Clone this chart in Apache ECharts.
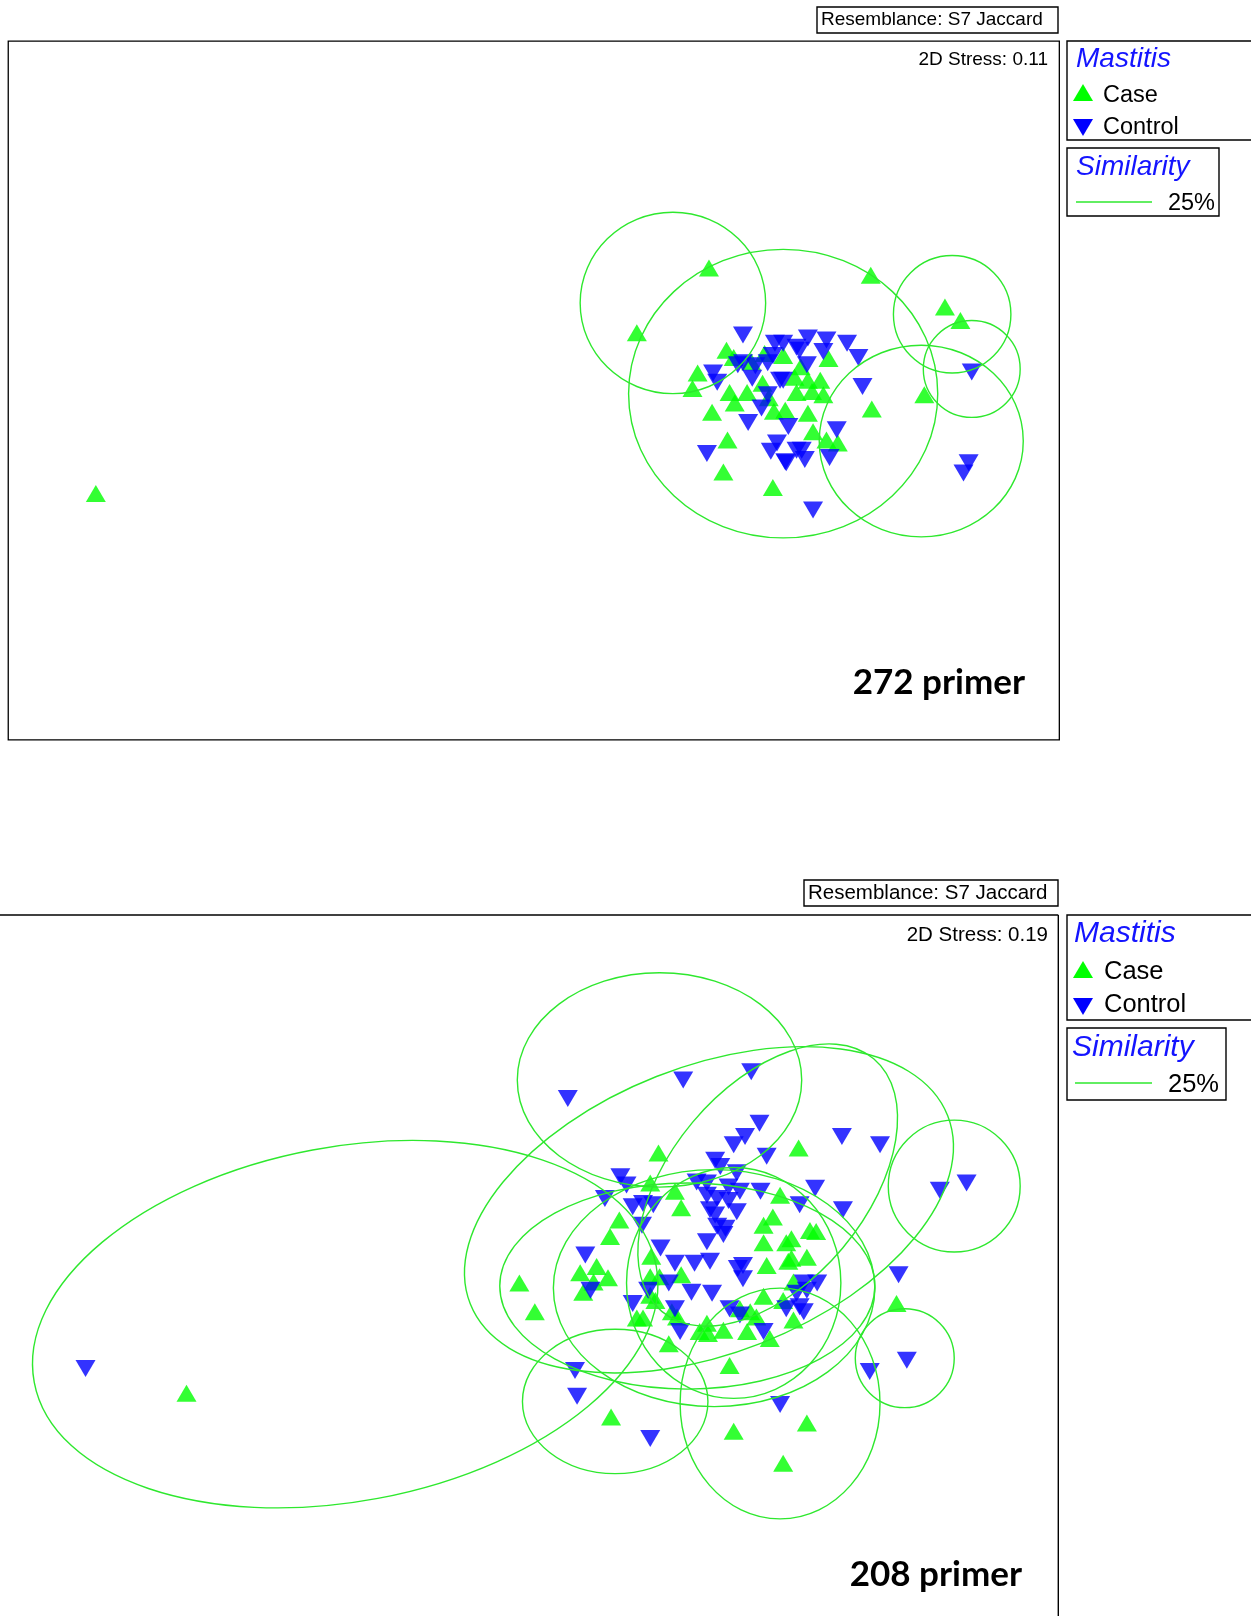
<!DOCTYPE html>
<html><head><meta charset="utf-8">
<script src="https://cdn.jsdelivr.net/npm/echarts@6/dist/echarts.min.js"></script>
<style>html,body{margin:0;padding:0;background:#fff}#c{width:1251px;height:1616px}</style>
</head><body><div id="c"></div>
<script>
// ---- DATA (ordination coordinates) ----
const topCase = [[688,260],[845,267],[618,323],[917,298],[932,311],[897,383],[846,397],[93,479],
 [705,340],[712,347],[677,362],[672,377],[708,381],[713,391],[725,381],[691,400],[706,427],[702,458],[750,473],
 [742,343],[760,345],[777,356],[804,348],[771,366],[784,369],[796,369],[773,381],[788,380],[799,383],[762,398],
 [784,401],[789,419],[802,427],[813,430],[740,372],[746,386],[751,399],[729,351]];
const topControl = [[721,325],[752,333],[750,345],[745,352],[773,337],[784,328],[802,330],[822,333],[776,340],[799,341],
 [833,347],[783,354],[760,333],[760,369],[837,375],[943,361],[692,362],[696,371],[721,352],[716,354],[730,367],
 [745,383],[739,396],[726,410],[686,440],[757,369],[765,414],[754,430],[762,448],[773,437],[812,417],[778,437],
 [781,446],[805,444],[763,449],[940,449],[935,459],[789,495],[733,355],[748,438]];
// similarity contours: [centreX, centreY, radiusA, radiusB, angleDeg]
const topContours = [[653,294,90,88,0],[760,382,150,140,0],[894,428,99,93,0],[924,305,57,57,0],[943,358,47,47,0]];

const botCase = [[181,1352],[504,1245],[519,1273],[563,1235],[566,1254],[576,1244],[579,1229],[590,1240],[592,1200],[601,1184],
 [618,1279],[593,1375],[631,1148],[632,1219],[631,1239],[639,1119],[655,1156],[661,1172],[757,1160],[750,1181],
 [741,1189],[741,1206],[768,1202],[763,1206],[768,1221],[765,1224],[744,1228],[640,1239],[661,1237],[631,1257],
 [636,1262],[652,1273],[657,1278],[741,1258],[760,1262],[770,1244],[718,1270],[728,1273],[734,1278],[686,1284],
 [679,1292],[687,1294],[702,1291],[725,1292],[747,1299],[649,1304],[708,1325],[712,1389],[783,1381],[760,1420],
 [624,1279],[770,1281],[786,1194],[792,1195],[783,1220],[775,1114],[870,1265]];
const botControl = [[83,1328],[551,1066],[663,1048],[729,1040],[737,1090],[723,1103],[712,1111],[744,1122],[694,1126],[699,1132],
 [715,1138],[676,1147],[686,1148],[707,1152],[718,1156],[738,1156],[602,1142],[608,1150],[587,1163],[614,1171],
 [624,1168],[634,1169],[623,1189],[568,1218],[573,1252],[614,1265],[629,1252],[558,1330],[560,1355],[686,1160],
 [696,1163],[707,1165],[715,1176],[689,1174],[694,1179],[702,1198],[686,1205],[696,1190],[704,1192],[641,1211],
 [655,1226],[674,1226],[689,1224],[716,1231],[721,1228],[721,1241],[649,1245],[671,1254],[691,1255],[655,1270],
 [708,1270],[718,1276],[660,1292],[741,1292],[763,1270],[776,1268],[780,1273],[773,1255],[783,1252],[757,1363],
 [631,1396],[817,1103],[854,1111],[912,1155],[938,1148],[791,1153],[818,1174],[776,1169],[872,1237],[880,1320],
 [844,1331],[780,1245],[793,1245]];
const botContours = [[335,1285,307,172,10.6],[640,1048,138,104,0],[688,1174,249,139,21.5],[745,1150,160,95,50],
 [667,1248,182,100,0],[693,1250,156,115,0],[712,1245,104,112,0],[597,1360,90,70,0],[757,1362,97,112,0],
 [926,1151,64,64,0],[878,1318,48,48,0]];

const groups = ['Case','Control'];
const stressLabels = ['2D Stress: 0.11','2D Stress: 0.19'];
const panelLabels = ['272 primer','208 primer'];
const resemblance = 'Resemblance: S7 Jaccard';
const factorName = 'Mastitis';
const contourName = 'Similarity';
const contourLevel = '25%';

// ---- RENDER ----
const K = 1251/1214;
const GREEN = '#00ff00', BLUE = '#0000ff', LINE = '#2ee82e', LEG = '#1414ff';
const upTri = 'path://M10,0L20,17L0,17Z';
const downTri = 'path://M0,0L20,0L10,17Z';

function renderEllipse(params, api){
  const c = api.coord([api.value(0), api.value(1)]);
  const s = api.size([api.value(2), api.value(3)]);
  return {type:'ellipse', x:c[0], y:c[1], rotation: api.value(4)*Math.PI/180,
    shape:{cx:0, cy:0, rx:s[0], ry:s[1]},
    style:{fill:'none', stroke:LINE, lineWidth:1.4}};
}
const hiddenAxis = {type:'value', axisLine:{show:false}, axisTick:{show:false}, axisLabel:{show:false}, splitLine:{show:false}};
const panels = [{xmin:8,xmax:1028,ymin:40,ymax:718,frame:true},{xmin:0,xmax:1027,ymin:888,ymax:1568.2,frame:false}];

const grids = panels.map(p=>({left:p.xmin*K, top:p.ymin*K, width:(p.xmax-p.xmin)*K, height:(p.ymax-p.ymin)*K,
  show:p.frame, borderColor:'#000', borderWidth:1.3, backgroundColor:'transparent'}));
const xAxes = panels.map((p,i)=>Object.assign({gridIndex:i, min:p.xmin, max:p.xmax}, hiddenAxis));
const yAxes = panels.map((p,i)=>Object.assign({gridIndex:i, min:p.ymin, max:p.ymax, inverse:true}, hiddenAxis));

const sets = [[topCase, topControl, topContours],[botCase, botControl, botContours]];
const series = [];
sets.forEach((s,i)=>{
  series.push({type:'scatter', name:groups[0], xAxisIndex:i, yAxisIndex:i, data:s[0], symbol:upTri, symbolSize:[20,17], itemStyle:{color:GREEN}, z:2});
  series.push({type:'scatter', name:groups[1], xAxisIndex:i, yAxisIndex:i, data:s[1], symbol:downTri, symbolSize:[20,17], itemStyle:{color:BLUE}, z:3});
  series.push({type:'custom', xAxisIndex:i, yAxisIndex:i, data:s[2], renderItem:renderEllipse, encode:{x:0,y:1}, clip:true, z:4, silent:true});
});

const ARIAL = '"Liberation Sans", Arial, sans-serif';
function txt(t, x, y, size, opts){
  opts = opts||{};
  return {type:'text', x:x, y:y, z:10, style:{text:t, fill:opts.fill||'#000',
    font:(opts.italic?'italic ':'')+(opts.bold?'bold ':'')+size+'px '+(opts.family||ARIAL),
    align:opts.align||'left', verticalAlign:'middle'}};
}
function box(x,y,w,h){ return {type:'rect', z:10, shape:{x:x,y:y,width:w,height:h}, style:{fill:'none', stroke:'#000', lineWidth:1.4}}; }
function seg(x1,y1,x2,y2){ return {type:'line', z:10, shape:{x1:x1,y1:y1,x2:x2,y2:y2}, style:{stroke:'#000', lineWidth:1.4}}; }
function tri(x,y,up,color){
  const pts = up ? [[x,y+17],[x+20,y+17],[x+10,y]] : [[x,y],[x+20,y],[x+10,y+17]];
  return {type:'polygon', z:10, shape:{points:pts}, style:{fill:color}};
}
const L = [
  // top panel
  {res:[817,7,241,26], resText:[821,20,19], stress:[1048,60,19], primer:[1025,683,35],
   box1:[1067,41,200,99], title1:[1076,59,28], case:[1073,84,1103,96,23.5], ctrl:[1073,119,1103,128,23.5],
   box2:[1067,148,152,68], title2:[1076,167,28], line:[1076,1152,202], level:[1215,204,23.5]},
  // bottom panel
  {res:[804,880,254,26], resText:[808,893,20.5], stress:[1048,935,20.5], primer:[1022,1575,35],
   box1:[1067,915,200,105], title1:[1074,934,30], case:[1073,961,1104,972,25.5], ctrl:[1073,998,1104,1005,25.5],
   box2:[1067,1028,159,72], title2:[1072,1048,30], line:[1075,1152,1083], level:[1219,1085,25.5]}
];
const graphic = [];
// open frame of the lower panel (top and right edges only)
const fx = 1027*K, fy = 888*K;
graphic.push(seg(0, fy, fx, fy));
graphic.push(seg(fx, fy, fx, 1616));
L.forEach((g,i)=>{
  graphic.push(box.apply(null, g.res));
  graphic.push(txt(resemblance, g.resText[0], g.resText[1], g.resText[2]));
  graphic.push(txt(stressLabels[i], g.stress[0], g.stress[1], g.stress[2], {align:'right'}));
  graphic.push(txt(panelLabels[i], g.primer[0], g.primer[1], g.primer[2], {align:'right', bold:true, family:'Lato, "Open Sans", sans-serif'}));
  graphic.push(box.apply(null, g.box1));
  graphic.push(txt(factorName, g.title1[0], g.title1[1], g.title1[2], {italic:true, fill:LEG}));
  graphic.push(tri(g.case[0], g.case[1], true, GREEN));
  graphic.push(txt(groups[0], g.case[2], g.case[3], g.case[4]));
  graphic.push(tri(g.ctrl[0], g.ctrl[1], false, BLUE));
  graphic.push(txt(groups[1], g.ctrl[2], g.ctrl[3], g.ctrl[4]));
  graphic.push(box.apply(null, g.box2));
  graphic.push(txt(contourName, g.title2[0], g.title2[1], g.title2[2], {italic:true, fill:LEG}));
  graphic.push({type:'line', z:10, shape:{x1:g.line[0], y1:g.line[2], x2:g.line[1], y2:g.line[2]}, style:{stroke:LINE, lineWidth:1.4}});
  graphic.push(txt(contourLevel, g.level[0], g.level[1], g.level[2], {align:'right'}));
});

const chart = echarts.init(document.getElementById('c'));
chart.setOption({animation:false, backgroundColor:'#fff', grid:grids, xAxis:xAxes, yAxis:yAxes, series:series, graphic:graphic});
</script></body></html>
